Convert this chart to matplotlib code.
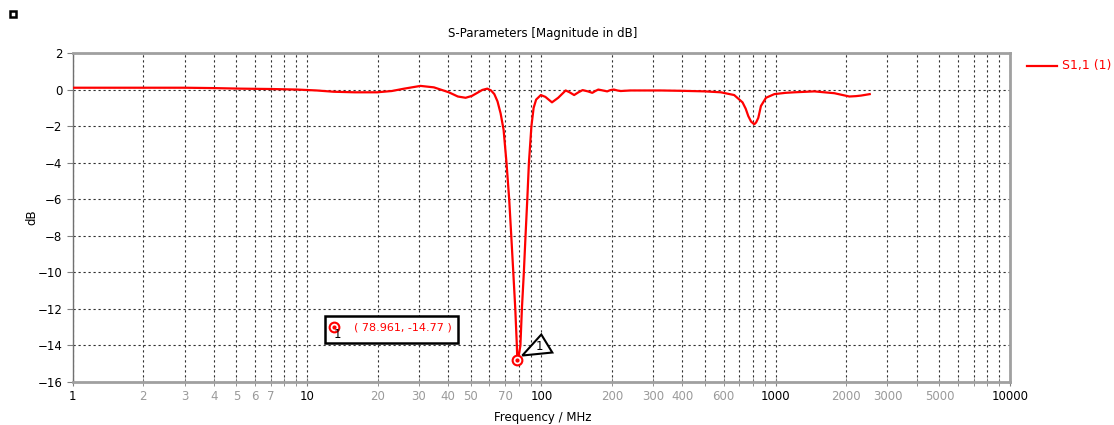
import matplotlib
matplotlib.use("Agg")
import matplotlib.pyplot as plt
from matplotlib.lines import Line2D
from matplotlib.patches import Rectangle, Polygon
from matplotlib.ticker import FixedLocator, FuncFormatter
import numpy as np

# S1,1 magnitude
freq_mhz = [1, 2, 3, 4, 5.2, 7, 9.1, 11, 13, 16, 19.9, 23, 26, 30.5, 34.8, 40.3,
            44, 47.5, 50.5, 53.3, 56, 58.8, 61, 63, 65, 67, 69, 71, 72.9, 74.4,
            75.9, 77.4, 78.6, 78.961, 80, 81.4, 82.6, 84.2, 85.6, 87.1, 88.5,
            90.7, 92.7, 95, 99.5, 104, 111, 118, 127, 132, 138, 144, 150, 158,
            165, 170, 175, 183, 191, 197, 204, 211, 218, 240, 280, 323, 400, 500,
            583, 665, 722, 745, 764, 785, 810, 825, 843, 865, 909, 987, 1100,
            1202, 1463, 1780, 1932, 2063, 2200, 2313, 2520]
s11_db = [0.1, 0.1, 0.1, 0.08, 0.05, 0.03, 0.0, -0.05, -0.12, -0.15, -0.15,
          -0.08, 0.05, 0.2, 0.12, -0.15, -0.38, -0.45, -0.35, -0.18, -0.02, 0.05,
          -0.05, -0.25, -0.65, -1.3, -2.2, -4, -6, -8, -10, -12, -14, -14.77,
          -14.6, -14, -12, -10, -8, -6, -4, -2, -1, -0.55, -0.3, -0.4, -0.7,
          -0.45, -0.05, -0.15, -0.3, -0.15, -0.03, -0.1, -0.18, -0.08, 0.0,
          -0.05, -0.1, -0.03, 0.0, -0.05, -0.08, -0.05, -0.05, -0.05, -0.07,
          -0.1, -0.15, -0.3, -0.7, -1.05, -1.45, -1.75, -1.9, -1.8, -1.55, -0.9,
          -0.45, -0.25, -0.18, -0.15, -0.1, -0.2, -0.3, -0.38, -0.36, -0.33,
          -0.25]

marker_f = 78.961
marker_db = -14.77

major_ticks = [1, 10, 100, 1000, 10000]
minor_labels = [2, 3, 4, 5, 6, 7, 20, 30, 40, 50, 70, 200, 300, 400, 600,
                2000, 3000, 5000]
y_ticks = list(range(-16, 3, 2))

W, H = 1114, 425
fig = plt.figure(figsize=(W / 100, H / 100), dpi=100)
ax = fig.add_axes([72.7 / W, 1 - 382 / H, (1010 - 72.7) / W, (382 - 53) / H])

ax.plot(freq_mhz, s11_db, color="#ff0000", lw=1.6, zorder=3)

ax.set_xscale("log")
ax.set_xlim(1, 10000)
ax.set_ylim(-16, 2)

ax.xaxis.set_major_locator(FixedLocator(major_ticks))
minors = [m * d for d in [1, 10, 100, 1000] for m in range(2, 10)]
ax.xaxis.set_minor_locator(FixedLocator(minors))
ax.xaxis.set_major_formatter(FuncFormatter(lambda v, p: f"{v:g}"))
ax.xaxis.set_minor_formatter(
    FuncFormatter(lambda v, p: f"{v:g}" if round(v) in minor_labels else ""))
ax.set_yticks(y_ticks)

ax.tick_params(axis="x", which="both", direction="inout", length=6,
               color="#808080", labelsize=8.5, pad=3)
ax.tick_params(axis="x", which="major", labelcolor="black")
ax.tick_params(axis="x", which="minor", labelcolor="#9a9a9a")
ax.tick_params(axis="y", direction="out", length=4, color="#808080",
               labelsize=8.5)

ax.grid(True, which="both", axis="x", color="#303030", lw=0.8,
        linestyle=(0, (2, 2.5)))
ax.grid(True, which="major", axis="y", color="#303030", lw=0.8,
        linestyle=(0, (2, 2.5)))

for side in ["top", "right", "bottom"]:
    ax.spines[side].set_color("#a0a0a0")
    ax.spines[side].set_linewidth(2)
ax.spines["left"].set_color("#707070")
ax.spines["left"].set_linewidth(1)

fig.text(543 / W, 1 - 33 / H, "S-Parameters [Magnitude in dB]", ha="center",
         va="center", fontsize=8.5)
fig.text(32 / W, 1 - 217 / H, "dB", rotation=90, ha="center", va="center",
         fontsize=8.5)
fig.text(543 / W, 1 - 418 / H, "Frequency / MHz", ha="center", va="center",
         fontsize=8.5)

# legend
fig.add_artist(Line2D([1027 / W, 1057 / W], [1 - 66 / H, 1 - 66 / H],
                      color="#ff0000", lw=1.6, transform=fig.transFigure))
fig.text(1062 / W, 1 - 66 / H, "S1,1 (1)", color="#ff0000", va="center",
         fontsize=9)

# little square top left
fig.add_artist(Rectangle((10 / W, 1 - 17 / H), 6 / W, 6 / H, fill=False,
                         ec="black", lw=1.8, transform=fig.transFigure))

# marker on the curve
ax.plot([marker_f], [marker_db], marker="o", ms=7, mfc="white", mec="#ff0000",
        mew=1.5, zorder=5, clip_on=False)
ax.plot([marker_f], [marker_db], marker="o", ms=2, color="#ff0000", zorder=6,
        clip_on=False)

px, py = ax.transData.transform((marker_f, marker_db))
tri = Polygon([(px + 5, py + 4), (px + 24, py + 25), (px + 35, py + 7)],
              closed=True, fc="white", ec="black", lw=1.5, transform=None,
              zorder=6)
fig.add_artist(tri)
fig.text((px + 22) / W, (py + 13) / H, "1", ha="center", va="center",
         fontsize=8.5, zorder=9)

# marker readout box
fig.add_artist(Rectangle((325 / W, 1 - 343 / H), 133 / W, 27 / H, fc="white",
                         ec="black", lw=1.8, transform=fig.transFigure,
                         zorder=6))
fig.add_artist(Line2D([334 / W], [1 - 327 / H], marker="o", ms=7, mfc="white",
                      mec="#ff0000", mew=1.5, transform=fig.transFigure,
                      zorder=7))
fig.add_artist(Line2D([334 / W], [1 - 327 / H], marker="o", ms=2,
                      color="#ff0000", transform=fig.transFigure, zorder=8))
fig.text(337 / W, 1 - 335 / H, "1", ha="center", va="center", fontsize=8.5,
         zorder=9)
fig.text(403 / W, 1 - 328 / H, f"( {marker_f:.3f}, {marker_db:.2f} )",
         color="#ff0000", ha="center", va="center", fontsize=8, zorder=9)

fig.savefig("out.png", dpi=100)
